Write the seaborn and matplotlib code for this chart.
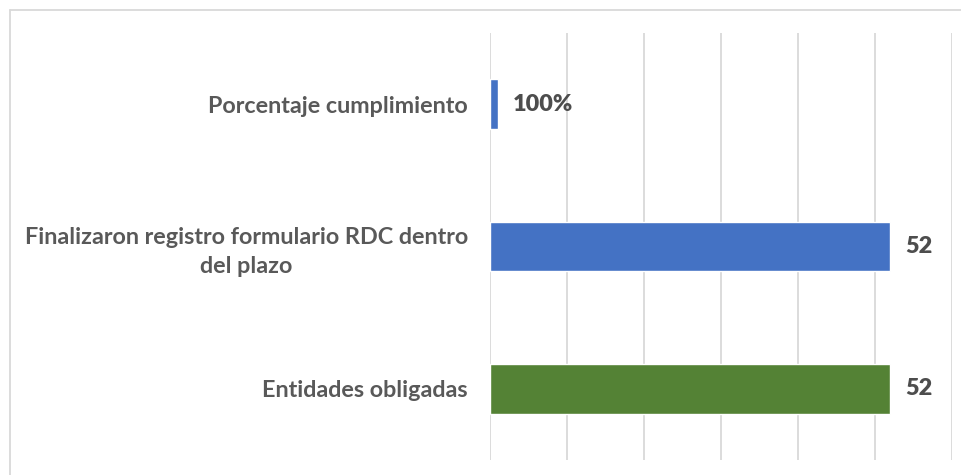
import seaborn as sns
import matplotlib.pyplot as plt
import pandas as pd
from matplotlib.lines import Line2D

# ----------------------------------------------------------------
# Data
# ----------------------------------------------------------------
categories = ['Porcentaje cumplimiento',
              'Finalizaron registro formulario RDC dentro\ndel plazo',
              'Entidades obligadas']
values = [1, 52, 52]
value_labels = ['100%', '52', '52']
bar_colors = ['#4472C4', '#4472C4', '#548235']

df = pd.DataFrame({'categoria': categories, 'valor': values})

# ----------------------------------------------------------------
# Plot
# ----------------------------------------------------------------
sns.set_style('white')
plt.rcParams['font.family'] = ['Lato', 'DejaVu Sans']

fig = plt.figure(figsize=(9.62, 4.75), dpi=100)
ax = fig.add_axes([490 / 962, 1 - 460 / 475, (952 - 490) / 962, (460 - 33) / 475])

sns.barplot(data=df, x='valor', y='categoria', hue='categoria',
            palette=bar_colors, width=0.35, orient='h', legend=False,
            saturation=1, ax=ax)

ax.set_xlim(0, 60)
ax.set_xticks(range(0, 61, 10))
ax.xaxis.grid(True, color='#D9D9D9', linewidth=1.3)
ax.set_axisbelow(True)
ax.tick_params(axis='x', length=0, labelbottom=False)
ax.tick_params(axis='y', length=0, pad=16)
for s in ax.spines.values():
    s.set_visible(False)
ax.set_xlabel('')
ax.set_ylabel('')

for lbl in ax.get_yticklabels():
    lbl.set_fontsize(16.8)
    lbl.set_fontweight('bold')
    lbl.set_color('#595959')
    lbl.set_multialignment('center')
    lbl.set_linespacing(1.45)

for cont, txt in zip(ax.containers, value_labels):
    texts = ax.bar_label(cont, labels=[txt], padding=11)
    for t in texts:
        t.set_fontsize(16.8)
        t.set_fontweight('heavy')
        t.set_color('#4d4d4d')

# chart frame
fig.add_artist(Line2D([10 / 962, 1], [1 - 10 / 475, 1 - 10 / 475],
                      color='#D9D9D9', linewidth=1.3))
fig.add_artist(Line2D([10 / 962, 10 / 962], [0, 1 - 10 / 475],
                      color='#D9D9D9', linewidth=1.3))

fig.savefig('out.png', dpi=100)
